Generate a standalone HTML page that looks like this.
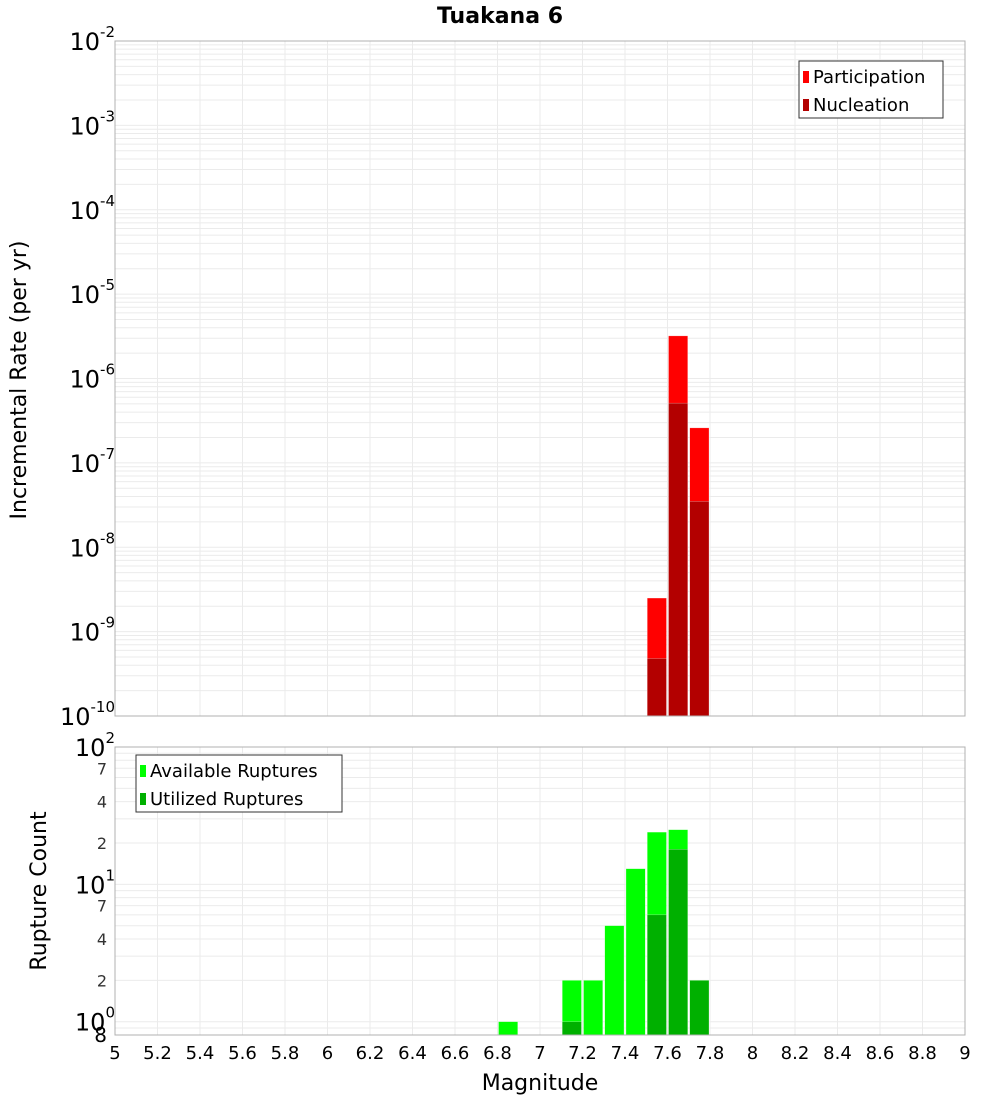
<!DOCTYPE html>
<html><head><meta charset="utf-8"><style>
body{margin:0;background:#fff}
svg{font-family:"DejaVu Sans","Liberation Sans",sans-serif}
</style></head><body>
<svg id="c" width="1000" height="1100" xmlns="http://www.w3.org/2000/svg"></svg>
<script>
const mags = [6.85, 7.15, 7.25, 7.35, 7.45, 7.55, 7.65, 7.75];
const participation = [0, 0, 0, 0, 0, 2.5e-9, 3.2e-6, 2.6e-7];
const nucleation = [0, 0, 0, 0, 0, 4.8e-10, 5.1e-7, 3.5e-8];
const available = [1, 2, 2, 5, 13, 24, 25, 2];
const utilized = [0, 1, 0, 0, 0, 6, 18, 2];
const xTicks = ["5","5.2","5.4","5.6","5.8","6","6.2","6.4","6.6","6.8","7","7.2","7.4","7.6","7.8","8","8.2","8.4","8.6","8.8","9"];

const NS="http://www.w3.org/2000/svg", svg=document.getElementById('c');
function mk(t,a,p){const e=document.createElementNS(NS,t);for(const k in a)e.setAttribute(k,a[k]);(p||svg).appendChild(e);return e;}
const L=115,R=965;
const x=v=>L+(v-5)/4*(R-L);
const T1=41,B1=716; const y1=v=>T1+(-2-Math.log10(v))*(B1-T1)/8;
const T2=747,B2=1035; const lmin=Math.log10(0.8),lmax=2; const y2=v=>B2-(Math.log10(v)-lmin)/(lmax-lmin)*(B2-T2);

// grids
function grid(top,bot,yf,dmin,dmax,lo,hi){
  for(let d=dmin;d<=dmax;d++)for(let m=1;m<10;m++){const v=m*Math.pow(10,d);if(v<lo||v>hi)continue;const yy=yf(v);
    const g=mk('line',{x1:L,x2:R,y1:yy,y2:yy,stroke:'#ebebeb','stroke-width':1});
    
    }
  xTicks.forEach(t=>{const g=mk('line',{x1:x(+t),x2:x(+t),y1:top,y2:bot,stroke:'#ebebeb','stroke-width':1});
    
    });
}
grid(T1,B1,y1,-10,-3,1e-10,1e-2);
grid(T2,B2,y2,-1,1,0.8,100);

// bars
function bar(m,v,yf,bot,col,name){if(!v)return;const yy=yf(v);const r=mk('rect',{x:x(m-0.05)+1,y:yy,width:x(m+0.05)-x(m-0.05)-2,height:bot-yy,fill:col,stroke:'#fff','stroke-opacity':0.5,'stroke-width':0.5});
  
  }
mags.forEach((m,i)=>{bar(m,participation[i],y1,B1,'#ff0000','participation-bar');bar(m,nucleation[i],y1,B1,'#b30000','nucleation-bar');
  bar(m,available[i],y2,B2,'#00ff00','available-bar');bar(m,utilized[i],y2,B2,'#00b000','utilized-bar');});

// frames
let f=mk('rect',{x:L,y:T1,width:R-L,height:B1-T1,fill:'none',stroke:'#b0b0b0'});
f=mk('rect',{x:L,y:T2,width:R-L,height:B2-T2,fill:'none',stroke:'#b0b0b0'});

function txt(s,a,name){const t=mk('text',a);t.textContent=s;return t;}
function pow(e,yy,name){const t=mk('text',{x:107,y:yy+9,'text-anchor':'end','font-size':24,fill:'#000'});
  const a=mk('tspan',{},t);a.textContent='10';const b=mk('tspan',{'font-size':15,dy:-13},t);b.textContent=e;
  // shift so exponent right edge near 115
  t.setAttribute('x',115);}
for(let d=-10;d<=-2;d++)pow(String(d),y1(Math.pow(10,d)),'y-tick-label');
[0,1,2].forEach(d=>pow(String(d),y2(Math.pow(10,d)),'y2-tick-label'));
[[2,0],[4,0],[7,0],[2,1],[4,1],[7,1]].forEach(([m,d])=>txt(String(m),{x:107,y:y2(m*Math.pow(10,d))+6,'text-anchor':'end','font-size':16,fill:'#333'},'y2-minor-label'));
txt('8',{x:107,y:1042,'text-anchor':'end','font-size':20,fill:'#000'},'y2-min-label');
xTicks.forEach(t=>txt(t,{x:x(+t),y:1059,'text-anchor':'middle','font-size':18,fill:'#000'},'x-tick-label'));
txt('Magnitude',{x:540,y:1090,'text-anchor':'middle','font-size':22},'x-axis-title');
txt('Tuakana 6',{x:500,y:23,'text-anchor':'middle','font-size':22,'font-weight':'bold'},'chart-title');
txt('Incremental Rate (per yr)',{x:0,y:0,'text-anchor':'middle','font-size':22,transform:'translate(26,380) rotate(-90)'},'y-axis-title');
txt('Rupture Count',{x:0,y:0,'text-anchor':'middle','font-size':22,transform:'translate(46,891) rotate(-90)'},'y2-axis-title');

// legends
function legend(x0,y0,w,items,name){const g=mk('g',{});
  mk('rect',{x:x0,y:y0,width:w,height:57,fill:'#fff',stroke:'#333'},g);
  items.forEach(([lab,col],i)=>{mk('rect',{x:x0+4,y:y0+10+i*28,width:6,height:12,fill:col},g);
    const t=mk('text',{x:x0+14,y:y0+22+i*28,'font-size':18},g);t.textContent=lab;});}
legend(799,61,144,[['Participation','#ff0000'],['Nucleation','#b30000']],'legend-top');
legend(136,755,206,[['Available Ruptures','#00ff00'],['Utilized Ruptures','#00b000']],'legend-bottom');
</script>
</body></html>
